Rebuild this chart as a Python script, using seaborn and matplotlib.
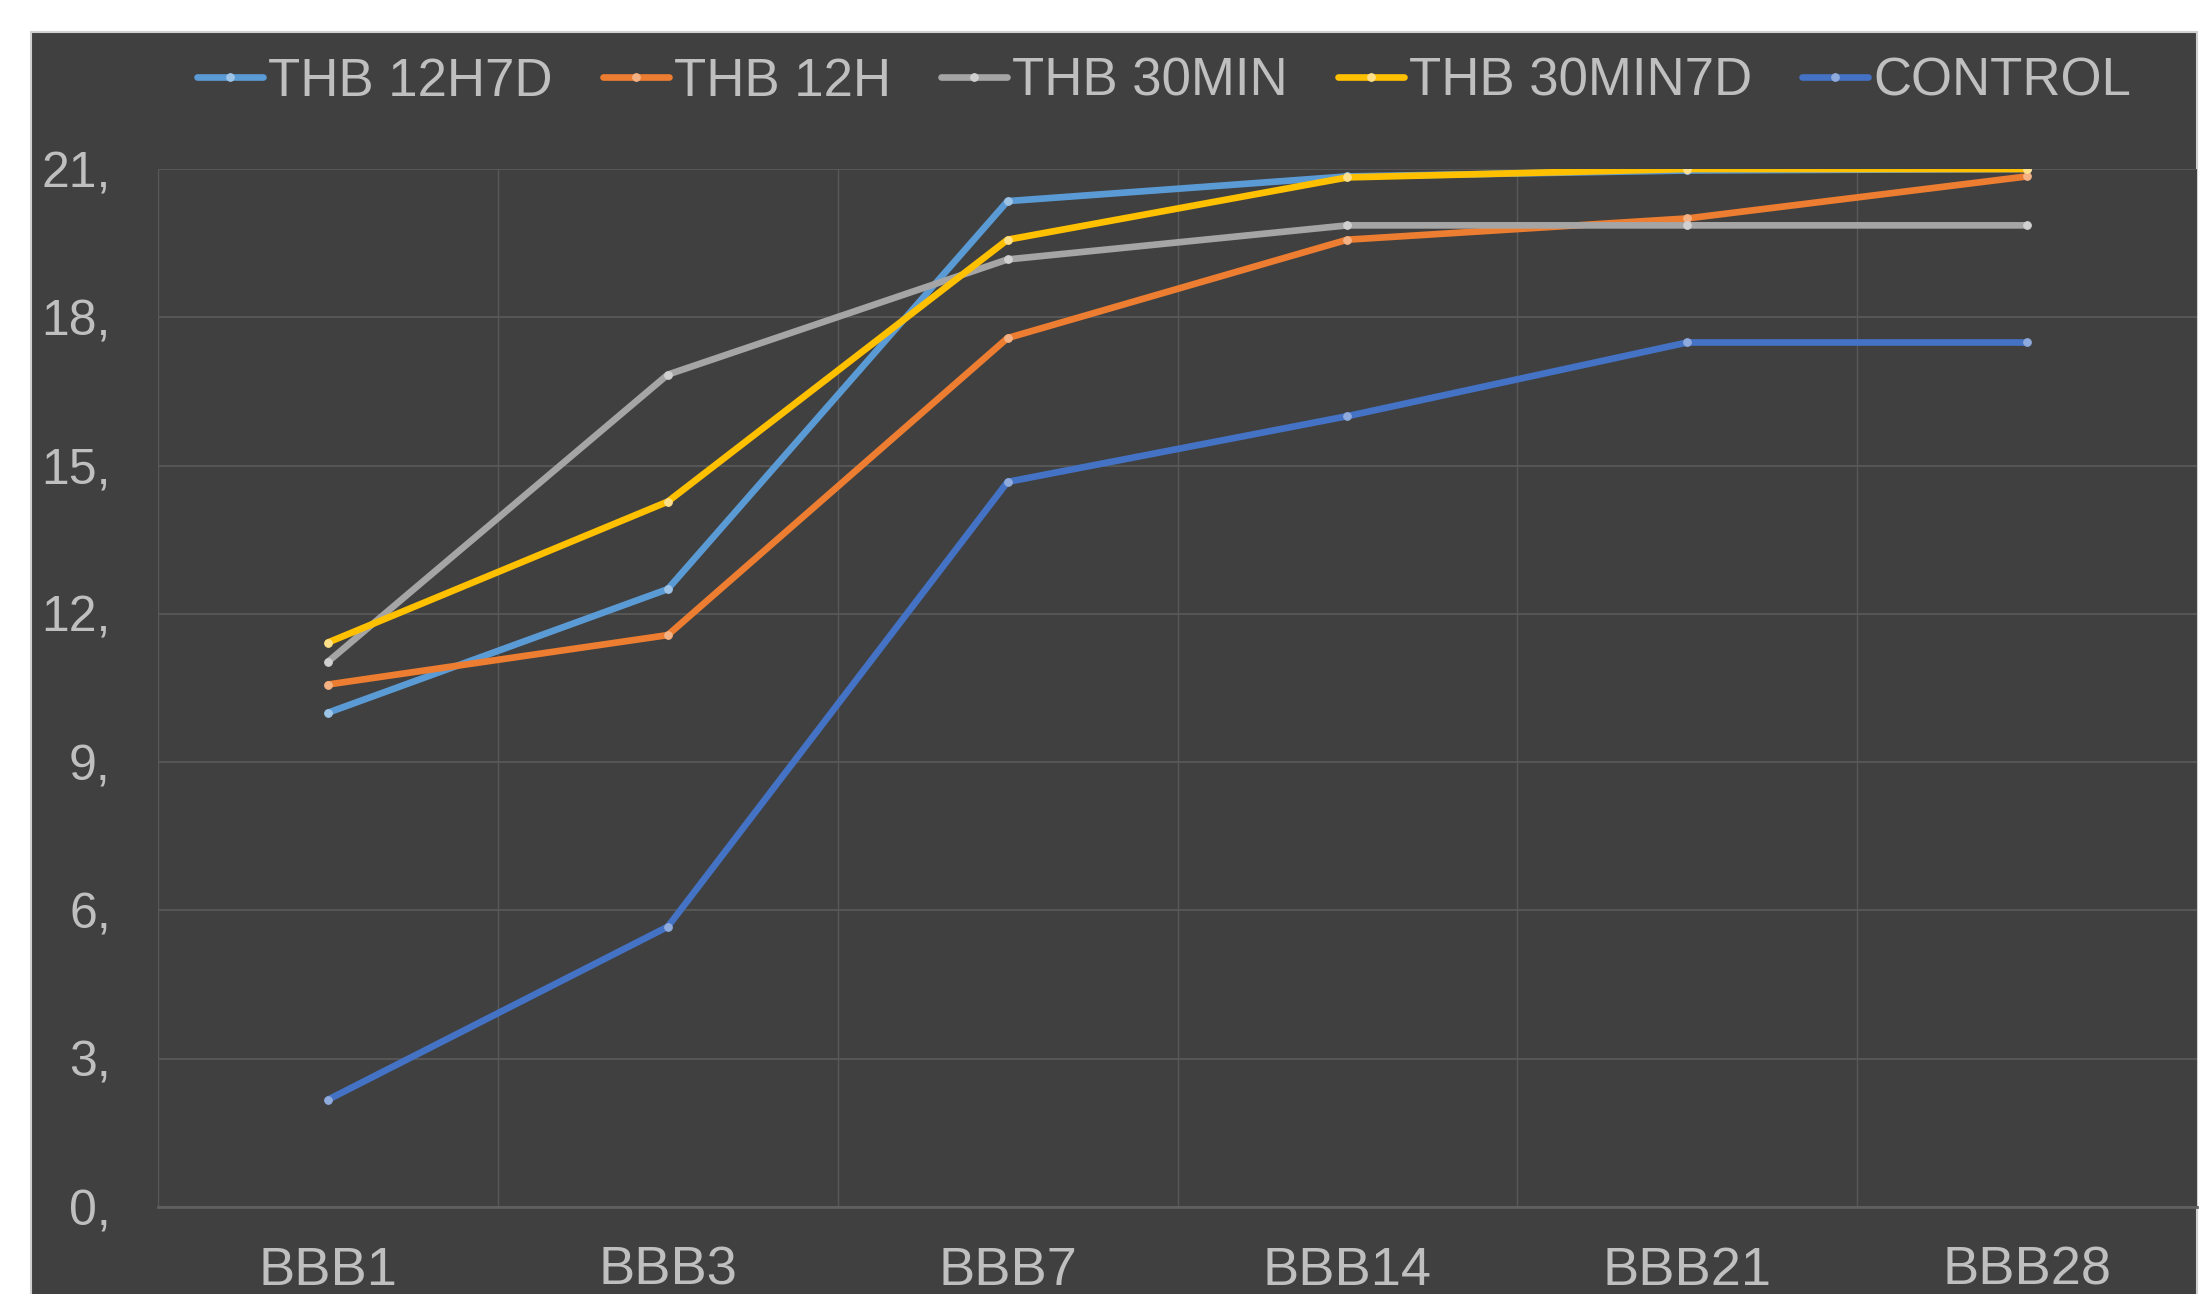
import numpy as np
import pandas as pd
import matplotlib.pyplot as plt
from matplotlib.patches import Rectangle
import seaborn as sns

# Dane
stages = ['BBB1', 'BBB3', 'BBB7', 'BBB14', 'BBB21', 'BBB28']
series_names = ['THB 12H7D', 'THB 12H', 'THB 30MIN', 'THB 30MIN7D', 'CONTROL']
thb_12h7d = [10.0, 12.5, 20.35, 20.85, 20.97, 21.0]
thb_12h = [10.57, 11.57, 17.58, 19.57, 20.0, 20.85]
thb_30min = [11.03, 16.84, 19.17, 19.86, 19.86, 19.86]
thb_30min7d = [11.42, 14.27, 19.57, 20.83, 21.0, 21.0]
control = [2.17, 5.67, 14.67, 16.0, 17.49, 17.49]
y_ticks = [0, 3, 6, 9, 12, 15, 18, 21]
y_tick_labels = ['0,', '3,', '6,', '9,', '12,', '15,', '18,', '21,']

line_colors = ['#5B9BD5', '#ED7D31', '#A5A5A5', '#FFC000', '#4472C4']
marker_colors = ['#9DC3E6', '#F4B183', '#D0D0D0', '#FFE08A', '#8FAADC']

values = [thb_12h7d, thb_12h, thb_30min, thb_30min7d, control]
df = pd.DataFrame({
    'stage': stages * len(series_names),
    'series': np.repeat(series_names, len(stages)),
    'value': np.concatenate(values),
})

sns.set_style('dark')
plt.rcParams['font.family'] = ['Liberation Sans', 'DejaVu Sans']
text_color = '#BFBFBF'
panel = '#404040'
grid_color = '#595959'

W, H = 2209, 1294
fig = plt.figure(figsize=(W / 100, H / 100), dpi=100)
fig.patch.set_facecolor('white')
fig.patches.append(Rectangle((31 / W, -0.01), (2197 - 31) / W, (1294 - 32) / H + 0.01,
                             transform=fig.transFigure, facecolor=panel,
                             edgecolor='#D0D0D0', lw=1.5, zorder=-10))

ax = fig.add_axes([158 / W, 87 / H, (2197 - 158) / W, (1207 - 169) / H])
ax.set_facecolor(panel)

# Linijos
for name, col, mcol in zip(series_names, line_colors, marker_colors):
    sub = df[df['series'] == name]
    sns.lineplot(data=sub, x='stage', y='value', ax=ax, color=col, lw=4.8,
                 marker='o', markersize=5.5, markerfacecolor=mcol,
                 markeredgecolor=mcol, label=name, sort=False)

ax.set_xlim(-0.5, 5.5)
ax.set_ylim(0, 21)
ax.set_yticks(y_ticks)
ax.set_yticklabels(y_tick_labels)
ax.set_xticks(range(len(stages)))
ax.set_xticklabels(stages)
ax.set_xticks(np.arange(-0.5, 6, 1), minor=True)
ax.tick_params(axis='y', length=0, pad=34, labelsize=36, colors=text_color)
ax.tick_params(axis='x', length=0, pad=28, labelsize=39, colors=text_color)
ax.tick_params(which='minor', length=0)
ax.set_xlabel('')
ax.set_ylabel('')

ax.grid(False)
ax.grid(axis='y', which='major', color=grid_color, lw=1.3)
ax.grid(axis='x', which='minor', color=grid_color, lw=1.0)
for s in ['top', 'right', 'left']:
    ax.spines[s].set_visible(False)
ax.spines['bottom'].set_color('#5F5F5F')
ax.spines['bottom'].set_linewidth(2)

handles, labels = ax.get_legend_handles_labels()
ax.legend(handles, labels, loc='center', bbox_to_anchor=(0.527, 0.937),
          bbox_transform=fig.transFigure, ncol=5, frameon=False,
          fontsize=38, labelcolor=text_color, handlelength=1.25,
          handletextpad=0.1, columnspacing=0.95)

plt.savefig('out.png', dpi=100)
plt.close()
